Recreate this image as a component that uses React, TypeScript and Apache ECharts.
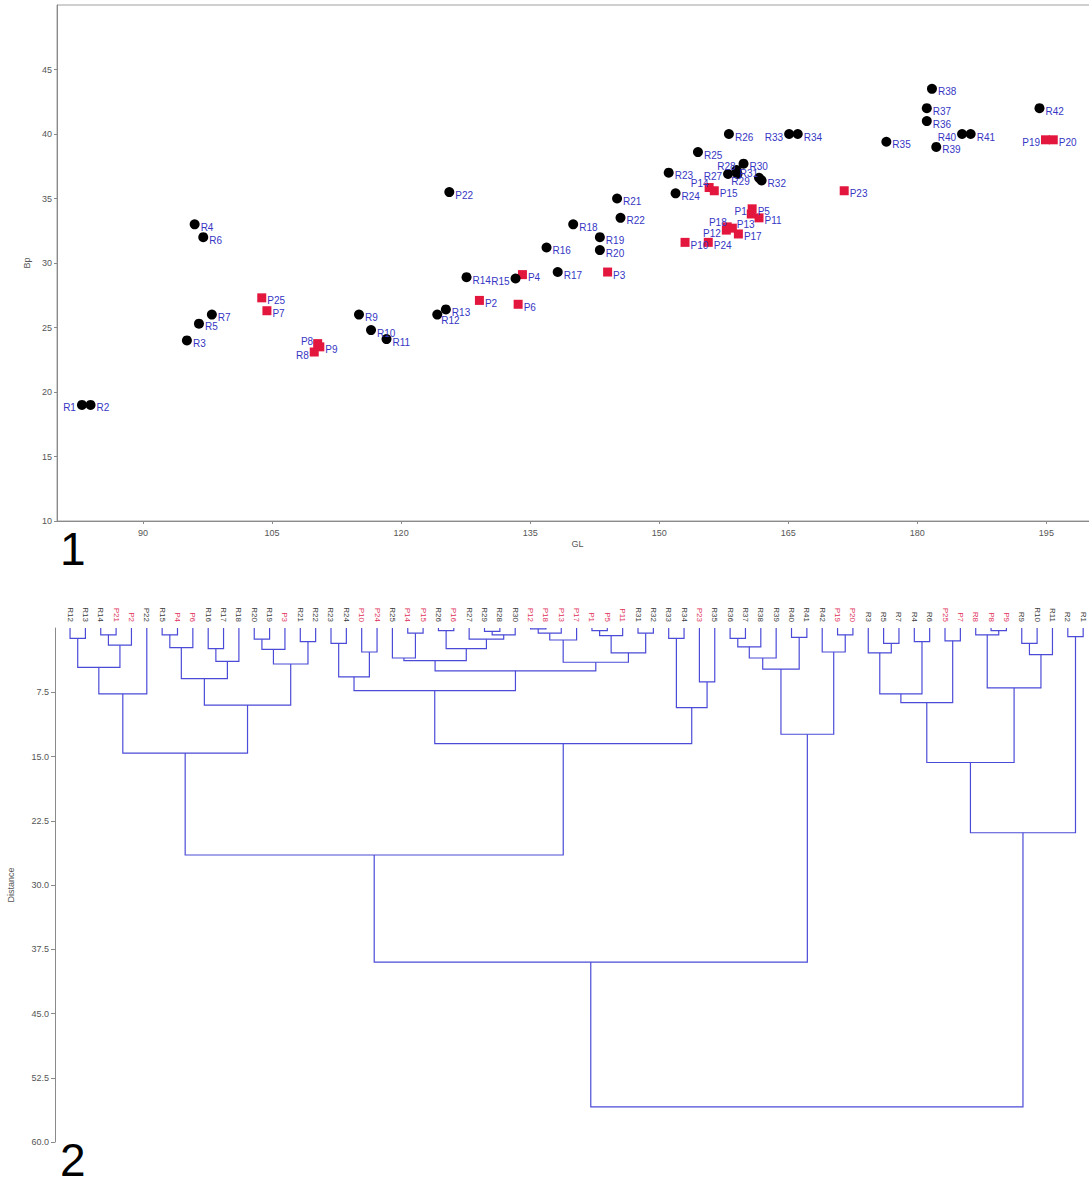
import React, { useEffect, useRef } from "react";
import * as echarts from "echarts";

// ---------- Panel 1: scatter (GL vs Bp) ----------
const circleNames = ["R1","R2","R3","R4","R5","R6","R7","R9","R10","R11","R12","R13","R14","R15","R16","R17","R18","R19","R20","R21","R22","R23","R24","R25","R26","R27","R28","R29","R30","R31","R32","R33","R34","R35","R36","R37","R38","R39","R40","R41","R42","P22"];
const circleGL = [82.9,83.9,95.1,96.0,96.5,97.0,98.0,115.1,116.5,118.3,124.2,125.2,127.6,133.3,136.9,138.2,140.0,143.1,143.1,145.1,145.5,151.1,151.9,154.5,158.1,158.0,159.0,159.1,159.8,161.6,161.9,165.1,166.1,176.4,181.1,181.1,181.7,182.2,185.2,186.2,194.2,125.6];
const circleBp = [19.0,19.0,24.0,33.0,25.3,32.0,26.0,26.0,24.8,24.1,26.0,26.4,28.9,28.8,31.2,29.3,33.0,32.0,31.0,35.0,33.5,37.0,35.4,38.6,40.0,36.9,37.2,36.9,37.7,36.6,36.4,40.0,40.0,39.4,41.0,42.0,43.5,39.0,40.0,40.0,42.0,35.5];

const squareNames = ["P1","P2","P3","P4","P5","P6","P7","P8","P9","P10","P11","P12","P13","P14","P15","P16","P17","P18","P19","P20","P21","P23","P24","P25","R8"];
const squareGL = [160.7,129.1,144.0,134.1,160.8,133.6,104.4,110.3,110.55,153.0,161.6,157.8,158.5,155.8,156.4,158.1,159.2,157.9,194.9,195.8,127.6,171.5,155.7,103.8,109.9];
const squareBp = [33.8,27.1,29.3,29.1,34.2,26.8,26.3,23.75,23.5,31.6,33.5,32.55,32.7,35.85,35.6,40.0,32.25,32.8,39.55,39.55,28.9,35.6,31.6,27.3,23.1];

const xTickValues = [90,105,120,135,150,165,180,195];

// label placement groups
const labelLeft = new Set(["R1","R8","R15","P12","P19","R33","R40","R27"]);
const labelLeftUp = new Set(["P1","P8"]);
const labelTopLeft = new Set(["R28","P18","R31","P14"]);
const labelTopRight = new Set(["P13"]);
const labelLowRight = new Set(["R12"]);
const labelBelow = new Set(["R29"]);
const labelHidden = new Set(["P16","P21"]);

// ---------- Panel 2: dendrogram ----------
const leafOrder = ["R12","R13","R14","P21","P2","P22","R15","P4","P6","R16","R17","R18","R20","R19","P3","R21","R22","R23","R24","P10","P24","R25","P14","P15","R26","P16","R27","R29","R28","R30","P12","P18","P13","P17","P1","P5","P11","R31","R32","R33","R34","P23","R35","R36","R37","R38","R39","R40","R41","R42","P19","P20","R3","R5","R7","R4","R6","P25","P7","R8","P8","P9","R9","R10","R11","R2","R1"];
const redLeaves = new Set(["P21","P2","P4","P6","P3","P10","P24","P14","P15","P16","P12","P18","P13","P17","P1","P5","P11","P23","P19","P20","P25","P7","R8","P8","P9"]);

// [left, right, distance]; "#k" refers to merge k
const merges: [string, string, number][] = [
  ["R12","R13",1.2],["R14","P21",0.8],["#1","P2",2.0],["#0","#2",4.6],["#3","P22",7.7],
  ["R15","P4",0.8],["#5","P6",2.3],["R16","R17",2.4],["#7","R18",3.9],["#6","#8",5.9],
  ["R20","R19",1.3],["#10","P3",2.5],["R21","R22",1.6],["#11","#12",4.2],["#9","#13",9.0],
  ["#4","#14",14.6],["R23","R24",1.8],["P10","P24",2.8],["#16","#17",5.7],["P14","P15",0.6],
  ["R25","#19",3.5],["R26","P16",0.3],["R29","R28",0.4],["#22","R30",0.8],["R27","#23",1.3],
  ["#21","#24",2.4],["#20","#25",3.8],["P12","P18",0.1],["#27","P13",0.6],["#28","P17",1.4],
  ["P1","P5",0.3],["#30","P11",0.9],["R31","R32",0.6],["#31","#32",2.9],["#29","#33",4.0],
  ["#26","#34",5.0],["#18","#35",7.3],["R33","R34",1.2],["P23","R35",6.3],["#37","#38",9.3],
  ["#36","#39",13.5],["#15","#40",26.5],["R36","R37",1.2],["#42","R38",2.2],["#43","R39",3.5],
  ["R40","R41",1.1],["#44","#45",4.8],["P19","P20",0.8],["R42","#47",2.8],["#46","#48",12.4],
  ["#41","#49",39.0],["R5","R7",1.8],["R3","#51",2.9],["R4","R6",1.6],["#52","#53",7.7],
  ["P25","P7",1.5],["#54","#55",8.7],["P8","P9",0.3],["R8","#57",0.8],["R9","R10",1.8],
  ["#59","R11",3.1],["#58","#60",7.0],["#56","#61",15.7],["R2","R1",1.0],["#62","#63",23.9],
  ["#50","#64",55.9]
];

const FONT = "'Liberation Sans', Arial, sans-serif";
const AXIS_GRAY = "#8a8a8a";
const LABEL_GRAY = "#555";

function labelFor(name: string) {
  if (labelHidden.has(name)) return { show: false };
  if (labelLeft.has(name)) return { position: "left", distance: 1, offset: [0, 3] };
  if (labelLeftUp.has(name)) return { position: "left", distance: 1, offset: [1, -2] };
  if (labelTopLeft.has(name)) return { position: "left", distance: 1, offset: [5, -4] };
  if (labelTopRight.has(name)) return { position: "right", distance: 1, offset: [-1, -4] };
  if (labelLowRight.has(name)) return { position: "right", distance: 0, offset: [-1, 6] };
  if (labelBelow.has(name)) return { position: "bottom", distance: 0, offset: [3, -2] };
  return { position: "right", distance: 1, offset: [0, 3] };
}

function buildDendrogram() {
  const pos: Record<string, number> = {};
  leafOrder.forEach((n, i) => (pos[n] = i));
  const nodeX: number[] = [];
  const nodeH: number[] = [];
  const getX = (k: string) => (k.startsWith("#") ? nodeX[+k.slice(1)] : pos[k]);
  const getH = (k: string) => (k.startsWith("#") ? nodeH[+k.slice(1)] : 0);
  const lines: { coords: number[][] }[] = [];
  merges.forEach(([a, b, h], i) => {
    const xa = getX(a), xb = getX(b);
    lines.push({ coords: [[xa, getH(a)], [xa, h], [xb, h], [xb, getH(b)]] });
    nodeX[i] = (xa + xb) / 2;
    nodeH[i] = h;
  });
  return lines;
}

export default function App() {
  const ref = useRef<HTMLDivElement>(null);
  useEffect(() => {
    document.body.style.margin = "0";
    const chart = echarts.init(ref.current!, null, { renderer: "svg" });

    const hiddenStyle = { symbolSize: 6 };
    const circleData = circleNames.map((n, i) => ({ name: n, value: [circleGL[i], circleBp[i]], label: labelFor(n) }));
    const squareData = squareNames.map((n, i) => ({
      name: n, value: [squareGL[i], squareBp[i]], label: labelFor(n),
      ...(labelHidden.has(n) ? hiddenStyle : {})
    }));
    const dendroLines = buildDendrogram();
    const leafIdx = leafOrder.map((_, i) => i);

    const option: any = {
      animation: false,
      backgroundColor: "#fff",
      textStyle: { fontFamily: FONT },
      grid: [
        { left: 57, top: 5, width: 1041, height: 516, show: true, borderColor: "#a0a0a0", borderWidth: 1, outerBoundsMode: "none", containLabel: false },
        { left: 55, top: 628, width: 1034, height: 514, outerBoundsMode: "none", containLabel: false }
      ],
      xAxis: [
        {
          gridIndex: 0, type: "value", min: 80, max: 201,
          name: "GL", nameLocation: "middle", nameGap: 18,
          nameTextStyle: { fontSize: 9, color: LABEL_GRAY, fontFamily: FONT },
          axisLine: { show: true, onZero: false, lineStyle: { color: AXIS_GRAY } },
          axisTick: { show: true, length: 3, customValues: xTickValues, lineStyle: { color: AXIS_GRAY } },
          axisLabel: { customValues: xTickValues, fontSize: 9, color: LABEL_GRAY, margin: 7 },
          splitLine: { show: false }
        },
        {
          gridIndex: 1, type: "value", min: -0.98, max: 66.38, position: "top",
          axisLine: { show: false, onZero: false }, axisTick: { show: false }, splitLine: { show: false },
          axisLabel: {
            customValues: leafIdx, rotate: 90, fontSize: 8, margin: 6,
            formatter: (v: number) => leafOrder[Math.round(v)] ?? "",
            color: (v: any) => (redLeaves.has(leafOrder[Math.round(+v)]) ? "#e0305a" : "#3a3a3a")
          }
        }
      ],
      yAxis: [
        {
          gridIndex: 0, type: "value", min: 10, max: 50, interval: 5,
          name: "Bp", nameLocation: "middle", nameGap: 24,
          nameTextStyle: { fontSize: 9, color: LABEL_GRAY, fontFamily: FONT },
          axisLine: { show: true, onZero: false, lineStyle: { color: AXIS_GRAY } },
          axisTick: { show: true, length: 3, lineStyle: { color: AXIS_GRAY } },
          axisLabel: { fontSize: 9, color: LABEL_GRAY, margin: 5, showMaxLabel: false },
          splitLine: { show: false }
        },
        {
          gridIndex: 1, type: "value", min: 0, max: 60, interval: 7.5, inverse: true,
          name: "Distance", nameLocation: "middle", nameGap: 40,
          nameTextStyle: { fontSize: 9, color: LABEL_GRAY, fontFamily: FONT },
          axisLine: { show: true, onZero: false, lineStyle: { color: AXIS_GRAY } },
          axisTick: { show: true, length: 4, lineStyle: { color: AXIS_GRAY } },
          axisLabel: { fontSize: 9, color: LABEL_GRAY, margin: 6, showMinLabel: false, formatter: (v: number) => v.toFixed(1) },
          splitLine: { show: false }
        }
      ],
      series: [
        {
          type: "scatter", xAxisIndex: 0, yAxisIndex: 0, data: squareData,
          symbol: "rect", symbolSize: 9, z: 2,
          itemStyle: { color: "#e3173e", opacity: 1 },
          label: { show: true, formatter: "{b}", color: "#3636c4", fontSize: 10, fontFamily: FONT }
        },
        {
          type: "scatter", xAxisIndex: 0, yAxisIndex: 0, data: circleData,
          symbol: "circle", symbolSize: 10, z: 3,
          itemStyle: { color: "#000", opacity: 1 },
          label: { show: true, formatter: "{b}", color: "#3636c4", fontSize: 10, fontFamily: FONT }
        },
        {
          type: "lines", coordinateSystem: "cartesian2d", xAxisIndex: 1, yAxisIndex: 1,
          polyline: true, data: dendroLines,
          lineStyle: { color: "#4b4bd8", width: 1.2, opacity: 1 }
        }
      ],
      graphic: [
        { type: "text", left: 60, top: 526, style: { text: "1", fontSize: 46, lineHeight: 34, fill: "#000", fontFamily: FONT } },
        { type: "text", left: 60, top: 1137, style: { text: "2", fontSize: 46, lineHeight: 34, fill: "#000", fontFamily: FONT } }
      ]
    };
    chart.setOption(option);
    return () => chart.dispose();
  }, []);
  return <div ref={ref} style={{ width: 1089, height: 1181 }} />;
}
